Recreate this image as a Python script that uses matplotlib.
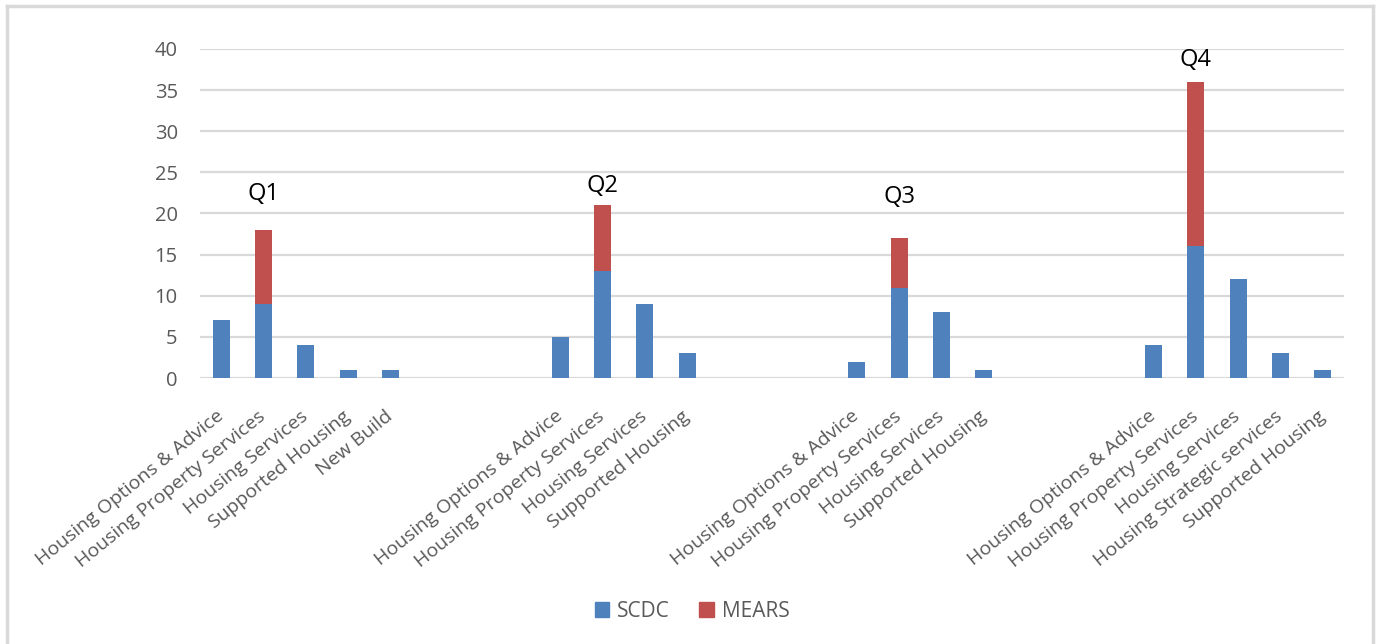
import matplotlib

matplotlib.use("Agg")

import matplotlib.pyplot as plt
from matplotlib.lines import Line2D
from matplotlib.patches import Patch
import numpy as np

# service areas reported in each quarter
q1_services = ["Housing Options & Advice", "Housing Property Services",
               "Housing Services", "Supported Housing", "New Build"]
q2_services = ["Housing Options & Advice", "Housing Property Services",
               "Housing Services", "Supported Housing"]
q3_services = ["Housing Options & Advice", "Housing Property Services",
               "Housing Services", "Supported Housing"]
q4_services = ["Housing Options & Advice", "Housing Property Services",
               "Housing Services", "Housing Strategic services", "Supported Housing"]

scdc_q1 = [7, 9, 4, 1, 1]
mears_q1 = [0, 9, 0, 0, 0]
scdc_q2 = [5, 13, 9, 3]
mears_q2 = [0, 8, 0, 0]
scdc_q3 = [2, 11, 8, 1]
mears_q3 = [0, 6, 0, 0]
scdc_q4 = [4, 16, 12, 3, 1]
mears_q4 = [0, 20, 0, 0, 0]

quarters = ["Q1", "Q2", "Q3", "Q4"]

BLUE = "#4F81BD"
RED = "#C0504D"
GREY_TEXT = "#595959"
GRID = "#D9D9D9"
FONT = "Open Sans"
GAP_SLOTS = 3
QUARTER_LABEL_Y = [22.4, 23.3, 22.0, 38.7]

groups = [
    (q1_services, scdc_q1, mears_q1),
    (q2_services, scdc_q2, mears_q2),
    (q3_services, scdc_q3, mears_q3),
    (q4_services, scdc_q4, mears_q4),
]

labels, scdc, mears, quarter_x = [], [], [], []
for index, (services, scdc_vals, mears_vals) in enumerate(groups):
    if index > 0:
        labels += [""] * GAP_SLOTS
        scdc += [0] * GAP_SLOTS
        mears += [0] * GAP_SLOTS
    start = len(labels)
    labels += services
    scdc += scdc_vals
    mears += mears_vals
    quarter_x.append(start + 1)

x = np.arange(len(labels))
scdc = np.array(scdc)
mears = np.array(mears)

fig = plt.figure(figsize=(13.79, 6.44), dpi=100)
ax = fig.add_axes([0.145, 0.413, 0.8296, 0.511])

ax.bar(x, scdc, width=0.4, color=BLUE, zorder=2)
ax.bar(x, mears, width=0.4, bottom=scdc, color=RED, zorder=2)

ax.set_xlim(-0.5, len(labels) - 0.5)
ax.set_ylim(0, 40)
ax.set_yticks(range(0, 41, 5))
ax.yaxis.grid(True, color=GRID, linewidth=1.6, zorder=0)
ax.set_axisbelow(True)
for spine in ax.spines.values():
    spine.set_visible(False)

ax.set_xticks(x)
ax.set_xticklabels(labels, rotation=39, ha="right", va="center",
                   rotation_mode="anchor", fontsize=14, color=GREY_TEXT,
                   family=FONT)
ax.tick_params(axis="x", length=0, pad=26)
ax.tick_params(axis="y", length=0, pad=16, labelsize=14.5, labelcolor=GREY_TEXT)
for tick in ax.get_yticklabels():
    tick.set_family(FONT)

for quarter, qx, qy in zip(quarters, quarter_x, QUARTER_LABEL_Y):
    ax.text(qx, qy, quarter, ha="center", va="center", fontsize=17,
            color="black", family=FONT)

handles = [Patch(color=BLUE, label="SCDC"), Patch(color=RED, label="MEARS")]
fig.legend(handles=handles, loc="center", bbox_to_anchor=(0.502, 0.051),
           ncol=2, frameon=False, handlelength=0.7, handleheight=0.7,
           columnspacing=1.4, handletextpad=0.4,
           prop={"family": FONT, "size": 15}, labelcolor=GREY_TEXT)

# light frame round the chart area
border = dict(color=GRID, linewidth=2.5, transform=fig.transFigure)
fig.add_artist(Line2D([0.005, 0.9955], [0.991, 0.991], **border))
fig.add_artist(Line2D([0.005, 0.005], [0.0, 0.991], **border))
fig.add_artist(Line2D([0.9955, 0.9955], [0.0, 0.991], **border))

fig.savefig("out.png", dpi=100)
plt.close(fig)
